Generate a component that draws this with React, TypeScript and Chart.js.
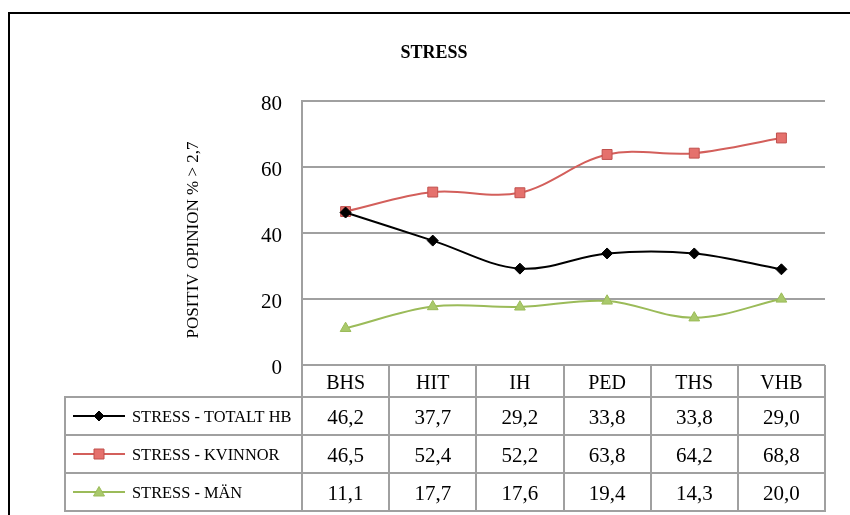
import React, { useEffect, useRef } from "react";
import { Chart, registerables } from "chart.js";

Chart.register(...registerables);

const categories = ["BHS", "HIT", "IH", "PED", "THS", "VHB"];
const totaltHB = [46.2, 37.7, 29.2, 33.8, 33.8, 29.0];
const kvinnor = [46.5, 52.4, 52.2, 63.8, 64.2, 68.8];
const man = [11.1, 17.7, 17.6, 19.4, 14.3, 20.0];
const seriesLabels = ["STRESS - TOTALT HB", "STRESS - KVINNOR", "STRESS - MÄN"];
const yMin = 0;
const yMax = 80;
const yStep = 20;
const chartTitle = "STRESS";
const yTitle = "POSITIV OPINION % > 2,7";

const FONT = "'Liberation Serif', 'Times New Roman', serif";
const GRID = "#a0a0a0";

const styles = [
  { line: "#000000", fill: "#000000", border: "#000000", shape: "diamond" },
  { line: "#d35f5b", fill: "#e5716d", border: "#c0504d", shape: "square" },
  { line: "#9bbb59", fill: "#a9c96b", border: "#9bbb59", shape: "triangle" },
];

function fmt(v: number) {
  return v.toFixed(1).replace(".", ",");
}

function drawMarker(ctx: CanvasRenderingContext2D, shape: string, x: number, y: number, fill: string, border: string) {
  ctx.save();
  ctx.fillStyle = fill;
  ctx.strokeStyle = border;
  ctx.lineWidth = 1;
  ctx.beginPath();
  if (shape === "diamond") {
    ctx.moveTo(x, y - 5);
    ctx.lineTo(x + 5, y);
    ctx.lineTo(x, y + 5);
    ctx.lineTo(x - 5, y);
    ctx.closePath();
  } else if (shape === "square") {
    ctx.rect(x - 5, y - 5, 10, 10);
  } else {
    ctx.moveTo(x, y - 5.5);
    ctx.lineTo(x + 5.5, y + 4);
    ctx.lineTo(x - 5.5, y + 4);
    ctx.closePath();
  }
  ctx.fill();
  ctx.stroke();
  ctx.restore();
}

const tablePlugin = {
  id: "dataTable",
  afterDraw(chart: any) {
    const ctx: CanvasRenderingContext2D = chart.ctx;
    const xs = chart.scales.x;
    const area = chart.chartArea;
    const top = area.bottom;
    const headerH = 32;
    const rowH = 38;
    const legendLeft = 65;
    const rowsTop = top + headerH;
    const bottom = rowsTop + rowH * 3;
    const n = categories.length;

    ctx.save();
    // Chart title
    ctx.fillStyle = "#000";
    ctx.textAlign = "center";
    ctx.textBaseline = "middle";
    ctx.font = `bold 18px ${FONT}`;
    ctx.fillText(chartTitle, 434, 53);

    // Y axis title
    ctx.save();
    ctx.translate(194, 240);
    ctx.rotate(-Math.PI / 2);
    ctx.font = `17px ${FONT}`;
    ctx.fillText(yTitle, 0, 0);
    ctx.restore();

    // table grid
    const bounds: number[] = [area.left];
    for (let i = 0; i < n - 1; i++) {
      bounds.push((xs.getPixelForValue(i) + xs.getPixelForValue(i + 1)) / 2);
    }
    bounds.push(area.right);

    ctx.strokeStyle = GRID;
    ctx.lineWidth = 2;
    ctx.beginPath();
    ctx.moveTo(area.left, top);
    ctx.lineTo(area.right, top);
    for (let r = 0; r <= 3; r++) {
      const yy = rowsTop + r * rowH;
      ctx.moveTo(legendLeft, yy);
      ctx.lineTo(area.right + 1, yy);
    }
    bounds.forEach((bx) => {
      const px = Math.round(bx);
      ctx.moveTo(px, top);
      ctx.lineTo(px, bottom + 1);
    });
    ctx.moveTo(legendLeft, rowsTop - 1);
    ctx.lineTo(legendLeft, bottom + 1);
    ctx.stroke();

    // header categories
    ctx.fillStyle = "#000";
    ctx.textAlign = "center";
    ctx.textBaseline = "alphabetic";
    ctx.font = `20px ${FONT}`;
    categories.forEach((c, i) => {
      ctx.fillText(c, xs.getPixelForValue(i), top + headerH / 2 + 7.5);
    });

    // rows
    const series = [totaltHB, kvinnor, man];
    series.forEach((vals, r) => {
      const cy = rowsTop + r * rowH + rowH / 2;
      const st = styles[r];
      // legend key
      ctx.save();
      ctx.strokeStyle = st.line;
      ctx.lineWidth = 2;
      ctx.beginPath();
      ctx.moveTo(73, cy);
      ctx.lineTo(125, cy);
      ctx.stroke();
      ctx.restore();
      drawMarker(ctx, st.shape, 99, cy, st.fill, st.border);
      ctx.fillStyle = "#000";
      ctx.textAlign = "left";
      ctx.font = `16.4px ${FONT}`;
      ctx.fillText(seriesLabels[r], 132, cy + 6);
      ctx.textAlign = "center";
      ctx.font = `21px ${FONT}`;
      vals.forEach((v, i) => {
        ctx.fillText(fmt(v), xs.getPixelForValue(i), cy + 7.5);
      });
    });
    ctx.restore();
  },
};

export default function App() {
  const ref = useRef<HTMLCanvasElement | null>(null);

  useEffect(() => {
    if (!ref.current) return;
    const mk = (label: string, data: number[], i: number, pointStyle: string, radius: number) => ({
      label,
      data,
      borderColor: styles[i].line,
      backgroundColor: styles[i].fill,
      pointBackgroundColor: styles[i].fill,
      pointBorderColor: styles[i].border,
      pointBorderWidth: 1,
      pointStyle,
      pointRadius: radius,
      borderWidth: 2,
      tension: 0.35,
      fill: false,
    });
    const chart = new Chart(ref.current, {
      type: "line",
      data: {
        labels: categories,
        datasets: [
          mk(seriesLabels[0], totaltHB, 0, "rectRot", 5.5),
          mk(seriesLabels[1], kvinnor, 1, "rect", 7),
          mk(seriesLabels[2], man, 2, "triangle", 6.2),
        ],
      },
      options: {
        responsive: false,
        animation: false,
        devicePixelRatio: 1,
        layout: { padding: { left: 0, top: 101, right: 25, bottom: 150 } },
        plugins: {
          legend: { display: false },
          title: { display: false },
          tooltip: { enabled: false },
        },
        scales: {
          x: {
            type: "category",
            offset: true,
            display: false,
            grid: { offset: true },
          },
          y: {
            min: yMin,
            max: yMax,
            ticks: {
              stepSize: yStep,
              color: "#000",
              font: { family: FONT, size: 21 },
              padding: 20,
              labelOffset: 3,
            },
            grid: { color: GRID, lineWidth: 2, drawTicks: false },
            border: { color: GRID, width: 2 },
            afterFit(scale: any) {
              scale.width = 302;
            },
          },
        },
      } as any,
      plugins: [tablePlugin],
    });
    return () => chart.destroy();
  }, []);

  return (
    <div style={{ position: "fixed", left: 0, top: 0, width: 850, height: 515, overflow: "hidden", background: "#fff" }}>
      <div style={{ position: "absolute", left: 8, top: 12, width: 1200, height: 1000, borderLeft: "2px solid #000", borderTop: "2px solid #000" }} />
      <canvas ref={ref} width={850} height={515} style={{ position: "absolute", left: 0, top: 0 }} />
    </div>
  );
}
